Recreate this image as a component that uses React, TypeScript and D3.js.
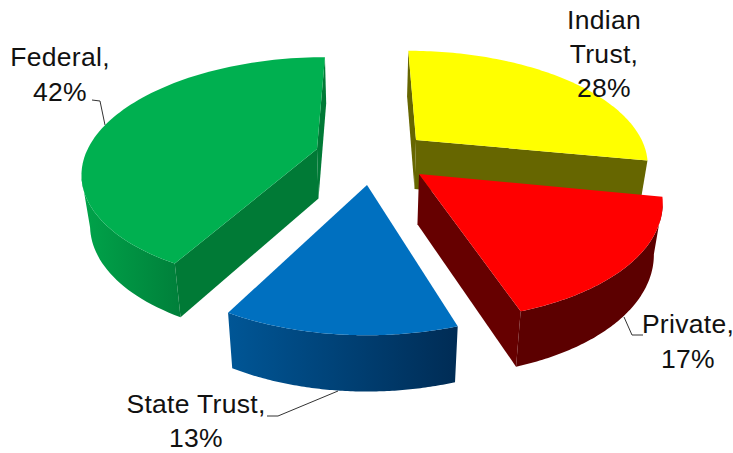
import React from "react";
import * as d3 from "d3";

const categories = ["Indian Trust", "Private", "State Trust", "Federal"];
const shares = [28, 17, 13, 42];

const labelLines = [["Indian", "Trust,", "28%"], ["Private,", "17%"], ["State Trust,", "13%"], ["Federal,", "42%"]];
const labelPos = [
  { x: 604, y: [29, 63, 97] },
  { x: 688, y: [333, 368] },
  { x: 196, y: [413, 447] },
  { x: 60, y: [66, 101] },
];
const leaders: [number, number][][] = [
  [],
  [[624, 317], [632, 335], [643, 335]],
  [[267, 416], [278, 416], [338, 391]],
  [[92, 100], [100, 101], [105, 125]],
];

const topColors = ["#FFFF00", "#FF0000", "#0070C0", "#00B050"];
const cutColors = ["#666600", "#660000", "#003a68", "#007a36"];
const wallFrom = ["#666600", "#5c0000", "#005696", "#00a44a"];
const wallTo = ["#666600", "#5c0000", "#002c55", "#007f3a"];
// screen position of each wedge's tip (the explosion)
const tips: [number, number][] = [[416, 140], [419, 174], [367, 185], [317, 149]];
const radiusFactor = [1.02, 1.01, 1, 1.02];

const W = 733, H = 453;
const vx = 367, cy = 165, R = 231, T = 113, k = 0.19;
const rimShrink = 0.97;

const toWorld = ([sx, sy]: [number, number]) => {
  const d = sy - cy;
  const Y = -d / (T + k * d);
  return { X: ((sx - vx) * (1 + k * Y)) / R, Y };
};
const project = (X: number, Y: number): [number, number] => {
  const w = 1 + k * Y;
  return [vx + (R * X) / w, cy - (T * Y) / w];
};
const drop = ([sx, sy]: [number, number], Y: number): [number, number] => {
  const w = 1 + k * Y;
  return [vx + (sx - vx) * rimShrink, sy + 28 + 22 / w];
};

const pie = d3.pie<number>().sort(null).value((d) => d);
const arcs = pie(shares);
const line = d3.line();

function wedge(i: number) {
  const a = arcs[i];
  const o = toWorld(tips[i]);
  const rf = radiusFactor[i];
  const n = 90;
  const angles = d3.range(n + 1).map((j) => a.startAngle + ((a.endAngle - a.startAngle) * j) / n);
  const worlds = angles.map((t) => ({ X: o.X + rf * Math.sin(t), Y: o.Y + rf * Math.cos(t) }));
  const rimTop = worlds.map((p) => project(p.X, p.Y));
  const rimBot = worlds.map((p, j) => drop(rimTop[j], p.Y));
  const tipTop = project(o.X, o.Y);
  const tipBot = drop(tipTop, o.Y);
  const first = rimTop[0], last = rimTop[n];
  // the outer wall shows only where the rim runs right-to-left along the front
  const seen = d3.range(n + 1).filter((j) => (j < n ? rimTop[j + 1][0] < rimTop[j][0] : rimTop[j][0] < rimTop[j - 1][0]));
  const wallTop = seen.map((j) => rimTop[j]);
  const wallBot = seen.map((j) => rimBot[j]);
  return {
    top: line([tipTop, ...rimTop])! + "Z",
    wall: seen.length ? line([...wallTop, ...[...wallBot].reverse()])! + "Z" : null,
    startCut: first[0] < tipTop[0] ? line([tipTop, first, rimBot[0], tipBot])! + "Z" : null,
    endCut: tipTop[0] < last[0] ? line([tipTop, last, rimBot[n], tipBot])! + "Z" : null,
    x0: d3.min(rimTop, (p) => p[0])!,
    x1: d3.max(rimTop, (p) => p[0])!,
  };
}

const drawOrder = [0, 3, 2, 1];
const font = "'Liberation Sans', Arial, sans-serif";

export default function App() {
  const wedges = categories.map((_, i) => wedge(i));
  return (
    <svg width={W} height={H} viewBox={`0 0 ${W} ${H}`} style={{ position: "absolute", left: 0, top: 0, display: "block", background: "#fff" }}>
      <defs>
        {wedges.map((w, i) => (
          <linearGradient key={i} id={`wall${i}`} gradientUnits="userSpaceOnUse" x1={w.x0} x2={i === 3 ? w.x0 + 100 : w.x1} y1={0} y2={0}>
            <stop offset="0" stopColor={wallFrom[i]} />
            <stop offset="1" stopColor={wallTo[i]} />
          </linearGradient>
        ))}
      </defs>
      {drawOrder.map((i) => {
        const w = wedges[i];
        return (
          <g key={categories[i]}>
            {w.wall && <path d={w.wall} fill={`url(#wall${i})`} />}
            {w.startCut && <path d={w.startCut} fill={cutColors[i]} />}
            {w.endCut && <path d={w.endCut} fill={cutColors[i]} />}
            <path d={w.top} fill={topColors[i]} />
          </g>
        );
      })}
      {leaders.map((pts, i) =>
        pts.length ? <path key={i} d={line(pts)!} fill="none" stroke="#333" strokeWidth={1} /> : null
      )}
      {labelLines.map((ls, i) =>
        ls.map((t, j) => (
          <text key={`${i}-${j}`} x={labelPos[i].x} y={labelPos[i].y[j]} textAnchor="middle" fontFamily={font} fontSize={26.5} letterSpacing={0.3} fill="#111">
            {t}
          </text>
        ))
      )}
    </svg>
  );
}
